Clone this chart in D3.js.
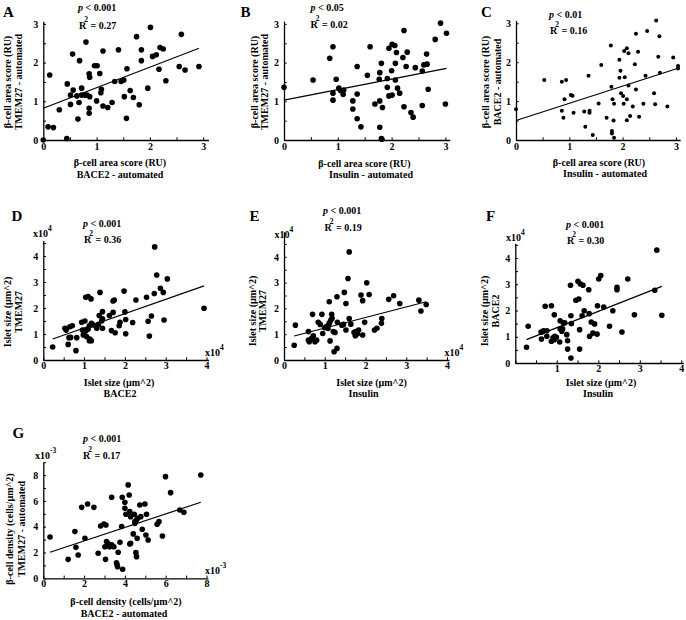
<!DOCTYPE html>
<html><head><meta charset="utf-8">
<script src="https://cdn.jsdelivr.net/npm/d3@7"></script>
<style>
body{margin:0;background:#fff;overflow:hidden}
text{font-family:"Liberation Serif","Times New Roman",serif;font-weight:bold;fill:#000}
</style>
</head><body><svg id="c" width="686" height="620"></svg>
<script>
// ---------- DATA ----------
const ptsA=[[0,0],[0.12,1.68],[0.09,0.34],[0.19,0.32],[0.30,0.78],[0.45,1.45],[0.44,0.04],[0.51,0.92],[0.51,1.16],[0.55,2.22],[0.56,1.29],[0.63,1.14],[0.65,0.54],[0.67,0.97],[0.68,2.05],[0.72,1.16],[0.72,1.34],[0.78,1.16],[0.80,2.53],[0.82,1.16],[0.86,1.71],[0.87,1.62],[0.87,1.12],[0.86,0.82],[0.86,0.69],[0.96,1.92],[1.01,1.92],[1.00,1.01],[1.06,1.72],[1.08,1.22],[1.09,1.31],[1.12,2.30],[1.12,0.88],[1.21,0.84],[1.29,0.97],[1.34,1.51],[1.41,2.33],[1.46,1.51],[1.51,1.55],[1.52,1.12],[1.56,0.56],[1.57,1.84],[1.63,1.28],[1.69,1.10],[1.75,2.67],[1.80,0.91],[1.84,2.33],[1.84,2.05],[1.96,1.34],[2.01,2.91],[2.05,2.16],[2.12,2.20],[2.17,1.83],[2.19,2.39],[2.25,2.35],[2.30,1.53],[2.55,1.90],[2.59,2.73],[2.66,1.81],[2.92,1.90]];
const ptsB=[[0,1.36],[0.54,1.55],[0.85,2.11],[0.91,2.41],[0.91,1.21],[0.91,1.03],[0.97,1.57],[1.02,1.34],[1.05,1.28],[1.10,1.18],[1.11,1.29],[1.28,1.01],[1.28,0.80],[1.36,1.90],[1.36,1.19],[1.36,0.55],[1.43,0.34],[1.55,1.67],[1.60,2.41],[1.69,0.93],[1.77,1.57],[1.78,1.74],[1.78,1.01],[1.78,0.33],[1.81,0.04],[1.82,0.02],[1.81,1.98],[1.83,0.84],[1.92,1.36],[1.92,1.59],[1.95,1.14],[1.95,2.37],[2.00,1.79],[2.01,1.16],[2.01,2.47],[2.06,2.44],[2.07,1.98],[2.07,1.55],[2.09,2.26],[2.11,1.34],[2.15,1.21],[2.21,2.13],[2.23,2.83],[2.23,0.86],[2.27,1.90],[2.29,2.27],[2.36,0.71],[2.40,0.59],[2.44,1.87],[2.57,1.78],[2.57,0.89],[2.60,1.94],[2.66,1.96],[2.65,2.22],[2.68,1.31],[2.81,2.60],[2.91,3.02],[3.02,2.76],[3.00,0.93]];
const ptsC=[[0,0.79],[0.53,1.54],[0.86,1.50],[0.94,1.54],[0.86,0.75],[0.89,0.57],[0.91,1.05],[1.03,1.16],[1.06,1.14],[1.08,0.70],[1.28,0.73],[1.30,0.34],[1.36,1.65],[1.38,0.75],[1.38,0.70],[1.44,0.13],[1.55,0.94],[1.60,1.93],[1.70,0.57],[1.78,2.43],[1.79,1.37],[1.81,1.05],[1.80,0.23],[1.80,0.17],[1.83,0.50],[1.84,0.06],[1.84,0.93],[1.94,2.06],[1.94,1.60],[1.96,1.78],[1.97,1.20],[2.01,1.13],[2.02,0.93],[2.03,2.29],[2.04,1.61],[2.08,2.36],[2.08,1.05],[2.08,0.51],[2.11,2.23],[2.11,1.40],[2.14,0.62],[2.19,0.86],[2.23,1.95],[2.25,1.30],[2.25,2.73],[2.29,2.27],[2.31,0.60],[2.39,0.93],[2.43,1.65],[2.46,2.80],[2.59,1.20],[2.61,0.92],[2.63,3.07],[2.67,2.14],[2.69,2.67],[2.70,1.73],[2.84,0.86],[2.95,2.12],[3.04,1.90],[3.04,1.84]];
const ptsD=[[0.23,0.50],[0.53,1.22],[0.56,1.15],[0.61,0.60],[0.63,0.86],[0.67,0.87],[0.65,1.28],[0.71,1.32],[0.80,0.36],[0.82,0.86],[0.94,1.45],[1.02,1.50],[0.96,1.15],[1.00,1.03],[1.02,1.09],[1.06,1.15],[1.10,1.19],[0.98,0.96],[1.04,2.41],[1.10,2.44],[1.17,2.35],[1.06,0.90],[1.13,0.74],[1.18,0.74],[1.14,0.81],[1.13,1.32],[1.18,1.41],[1.22,1.35],[1.31,1.22],[1.35,1.37],[1.37,1.71],[1.39,2.60],[1.43,1.50],[1.45,1.58],[1.45,1.86],[1.45,1.22],[1.62,1.71],[1.67,1.13],[1.76,1.05],[1.71,2.27],[1.74,2.31],[1.71,1.83],[1.86,1.32],[1.88,1.45],[1.98,2.65],[2.00,1.85],[2.02,1.56],[2.02,1.01],[2.19,1.44],[2.27,2.31],[2.53,2.41],[2.57,1.49],[2.60,0.92],[2.65,1.69],[2.72,2.56],[2.73,4.35],[2.78,3.27],[2.87,2.76],[2.94,2.60],[2.96,1.54],[3.04,3.12],[3.94,1.99]];
const ptsE=[[0.25,0.57],[0.28,1.35],[0.60,1.10],[0.60,0.77],[0.62,0.71],[0.68,0.84],[0.72,0.94],[0.70,1.77],[0.76,0.71],[0.80,0.77],[0.84,1.46],[0.89,1.38],[0.93,1.77],[0.95,1.03],[1.00,1.25],[1.04,1.30],[1.08,1.22],[1.10,1.38],[1.12,1.45],[1.15,1.55],[1.18,1.62],[1.11,2.26],[1.13,0.74],[1.17,1.77],[1.21,1.10],[1.25,1.07],[1.23,0.32],[1.30,0.45],[1.30,2.45],[1.31,1.46],[1.42,1.35],[1.46,1.38],[1.48,2.62],[1.52,2.19],[1.52,1.16],[1.57,3.16],[1.60,4.19],[1.60,1.61],[1.64,1.39],[1.72,1.07],[1.75,0.94],[1.77,1.10],[1.80,1.01],[1.83,1.16],[1.89,2.52],[1.93,2.30],[1.93,0.97],[1.98,1.46],[2.03,2.99],[2.09,2.54],[2.22,1.16],[2.28,1.23],[2.39,1.42],[2.40,1.61],[2.57,2.35],[2.69,2.49],[2.84,2.19],[3.31,2.32],[3.36,1.90],[3.49,2.15]];
const ptsF=[[0.27,0.60],[0.31,1.40],[0.62,1.18],[0.64,1.18],[0.68,1.23],[0.76,1.23],[0.63,0.91],[0.72,2.16],[0.76,1.02],[0.87,2.18],[0.87,0.83],[0.91,0.96],[0.95,1.02],[0.99,0.98],[0.94,0.89],[1.07,0.80],[0.94,1.84],[1.08,1.61],[1.08,1.30],[1.12,1.21],[1.14,1.30],[1.16,1.52],[1.19,1.53],[1.24,1.08],[1.26,0.85],[1.26,0.53],[1.33,2.96],[1.34,0.19],[1.34,1.80],[1.35,1.50],[1.46,2.39],[1.51,3.11],[1.53,2.44],[1.55,1.27],[1.55,0.53],[1.57,3.01],[1.63,2.96],[1.61,1.80],[1.66,1.99],[1.77,2.79],[1.78,1.88],[1.79,1.02],[1.83,1.56],[1.87,1.14],[1.91,1.49],[1.97,1.10],[1.98,2.18],[2.01,3.20],[2.06,3.33],[2.13,2.13],[2.27,1.40],[2.35,1.99],[2.45,2.88],[2.45,2.79],[2.57,1.18],[2.71,3.20],[2.87,1.84],[3.36,2.77],[3.41,4.30],[3.53,1.82]];
const ptsG=[[0.33,3.20],[1.22,1.47],[1.55,3.62],[1.60,2.40],[1.71,1.81],[1.88,5.50],[2.17,5.76],[2.04,3.10],[2.48,5.50],[2.69,1.94],[2.81,4.06],[2.97,4.21],[3.07,4.13],[3.02,2.45],[3.10,2.85],[3.18,2.70],[3.25,2.45],[3.35,2.60],[3.05,1.47],[3.35,6.28],[3.46,2.45],[3.67,2.02],[3.59,1.21],[3.62,1.03],[3.64,0.90],[3.76,2.79],[3.84,4.01],[3.87,6.28],[3.89,0.70],[4.00,5.43],[4.00,5.89],[4.05,4.96],[4.16,7.24],[4.21,6.46],[4.24,5.17],[4.24,2.66],[4.28,2.71],[4.28,4.78],[4.41,3.44],[4.46,4.96],[4.49,4.26],[4.49,4.39],[4.57,4.52],[4.62,4.65],[4.54,1.99],[4.57,1.68],[4.60,3.10],[4.73,5.68],[4.78,4.78],[4.85,3.80],[4.98,5.76],[5.03,3.36],[5.06,4.96],[5.14,2.97],[5.58,4.19],[5.67,4.39],[5.84,3.28],[5.99,7.88],[6.24,6.64],[6.69,5.30],[6.89,5.12],[7.72,8.01]];

// regression lines: [intercept, slope]
const fitA=[0.82,0.531], fitB=[1.03,0.272], fitC=[0.50,0.442], fitD=[0.683,0.55],
      fitE=[0.8275,0.41], fitF=[0.722,0.623], fitG=[1.847,0.524];

const letters=["A","B","C","D","E","F","G"];
const pLabels=["< 0.001","< 0.05","< 0.01","< 0.001","< 0.001","< 0.001","< 0.001"];
const r2Labels=["0.27","0.02","0.16","0.36","0.19","0.30","0.17"];
const xLab1=["β-cell area score (RU)","β-cell area score (RU)","β-cell area score (RU)","Islet size (µm^2)","Islet size (µm^2)","Islet size (µm^2)","β-cell density (cells/µm^2)"];
const xLab2=["BACE2 - automated","Insulin - automated","Insulin - automated","BACE2","Insulin","Insulin","BACE2 - automated"];
const yLab1=["β-cell area score (RU)","β-cell area score (RU)","β-cell area score (RU)","Islet size (µm^2)","Islet size (µm^2)","Islet size (µm^2)","β-cell density (cells/µm^2)"];
const yLab2=["TMEM27 - automated","TMEM27 - automated","BACE2 - automated","TMEM27","TMEM27","BACE2","TMEM27 - automated"];
const expLabels=[null,null,null,"4","4","4","-3"];
const ticksAF=[0,1,2,3], ticksDF=[0,1,2,3,4], ticksG=[0,2,4,6,8];

// ---------- LAYOUT ----------
const L=[
 {ox:43.3,oy:140,ux:53.3,uy:38.7,xm:3.1,ym:3.07,minor:0.5,xt:ticksAF,yt:ticksAF,r:2.8,
  let:[3,17],p:[78,10.5],r2:[79,28.5],xl1:[120,166],xl2:[120,177.5],yl:[11,22,82],xpad:3},
 {ox:284,oy:140,ux:53.8,uy:38.7,xm:3.08,ym:3.07,minor:0.5,xt:ticksAF,yt:ticksAF,r:2.8,
  let:[240.5,17],p:[310.5,10.5],r2:[310.5,27.5],xl1:[364.5,166.5],xl2:[371,178],yl:[257.5,267.5,82],xpad:3},
 {ox:516,oy:140,ux:53.3,uy:38.9,xm:3.08,ym:3.07,minor:0.5,xt:ticksAF,yt:ticksAF,r:2.0,
  let:[481,16.5],p:[549,17.5],r2:[550,33.5],xl1:[599,165.5],xl2:[605,177],yl:[489,501,82],xpad:3},
 {ox:43.3,oy:360,ux:40.8,uy:26,xm:4.05,ym:4.6,minor:0.5,xt:ticksDF,yt:ticksDF,r:2.8,
  let:[11.5,221],p:[83,227],r2:[84,243],xl1:[119,385.5],xl2:[120,397],yl:[11,22,312],xpad:2,
  ey:[33,236.5],ex:[205,356]},
 {ox:284,oy:360,ux:40.75,uy:25.8,xm:4.05,ym:4.97,minor:0.5,xt:ticksDF,yt:ticksDF,r:2.8,
  let:[249.5,221],p:[323,214],r2:[324.5,231],xl1:[371.5,386],xl2:[363.5,397],yl:[255.5,265.5,311],xpad:2,
  ey:[274.5,237.5],ex:[444.5,356]},
 {ox:515.3,oy:363,ux:41.5,uy:26.25,xm:4.05,ym:4.56,minor:0.5,xt:[1,2,3,4],yt:ticksDF,r:2.8,
  let:[486,220.5],p:[566,227.5],r2:[567,243.5],xl1:[601,386],xl2:[598,397],yl:[488,499,311],xpad:2,
  ey:[506,240.5],ex:null},
 {ox:43.3,oy:578.3,ux:20.4,uy:12.9,xm:8.07,ym:9.0,minor:1,xt:ticksG,yt:ticksG,r:2.8,
  let:[12.5,437.5],p:[83,442],r2:[83,458.5],xl1:[126,605],xl2:[124,617],yl:[13,24.5,529],xpad:2,
  ey:[35,458.5],ex:[205,573.5]}
];
const pts=[ptsA,ptsB,ptsC,ptsD,ptsE,ptsF,ptsG];
const fits=[fitA,fitB,fitC,fitD,fitE,fitF,fitG];

const svg=d3.select("#c");
const FS=10;

L.forEach((c,i)=>{
  const g=svg.append("g");
  const x=d3.scaleLinear().domain([0,c.xm]).range([c.ox,c.ox+c.xm*c.ux]);
  const y=d3.scaleLinear().domain([0,c.ym]).range([c.oy,c.oy-c.ym*c.uy]);
  const minorX=d3.range(0,c.xm+1e-6,c.minor), minorY=d3.range(0,c.ym+1e-6,c.minor);
  const fmtX=d=>c.xt.some(t=>Math.abs(t-d)<1e-6)?d3.format("d")(d):"";
  const fmtY=d=>c.yt.some(t=>Math.abs(t-d)<1e-6)?d3.format("d")(d):"";
  const ax=g.append("g").attr("transform",`translate(0,${c.oy})`)
    .call(d3.axisBottom(x).tickValues(minorX).tickFormat(fmtX).tickSizeInner(-2.7).tickSizeOuter(0).tickPadding(c.xpad));
  const ay=g.append("g").attr("transform",`translate(${c.ox},0)`)
    .call(d3.axisLeft(y).tickValues(minorY).tickFormat(fmtY).tickSizeInner(-2.7).tickSizeOuter(0).tickPadding(5));
  [ax,ay].forEach(a=>{
    a.selectAll("path").attr("stroke","#000").attr("stroke-width",1.3);
    a.selectAll("line").attr("stroke","#000").attr("stroke-width",1);
    a.selectAll("text").style("font-family",'"Liberation Serif",serif').style("font-weight","bold").attr("font-size",FS).attr("fill","#000");
  });

  // points
  g.append("g").selectAll("circle").data(pts[i]).join("circle")
    .attr("cx",d=>x(d[0])).attr("cy",d=>y(d[1])).attr("r",c.r).attr("fill","#000");

  // regression line
  const f=fits[i];
  const xe=d3.extent(pts[i],d=>d[0]);
  g.append("line").attr("x1",x(xe[0])).attr("y1",y(f[0]+f[1]*xe[0]))
    .attr("x2",x(xe[1])).attr("y2",y(f[0]+f[1]*xe[1]))
    .attr("stroke","#000").attr("stroke-width",1.2);

  // panel letter
  g.append("text").attr("x",c.let[0]).attr("y",c.let[1]).attr("font-size",15).text(letters[i]);
  // p value
  const pt=g.append("text").attr("x",c.p[0]).attr("y",c.p[1]).attr("font-size",FS);
  pt.append("tspan").attr("font-style","italic").text("p");
  pt.append("tspan").text(" "+pLabels[i]);
  // R^2
  const rt=g.append("text").attr("x",c.r2[0]).attr("y",c.r2[1]).attr("font-size",FS);
  rt.append("tspan").text("R");
  rt.append("tspan").attr("dx",-2).attr("dy",-7).attr("font-size",7.5).text("2");
  rt.append("tspan").attr("dx",0).attr("dy",7).text(" = "+r2Labels[i]);

  // axis titles
  g.append("text").attr("x",c.xl1[0]).attr("y",c.xl1[1]).attr("text-anchor","middle").attr("font-size",FS).text(xLab1[i]);
  g.append("text").attr("x",c.xl2[0]).attr("y",c.xl2[1]).attr("text-anchor","middle").attr("font-size",FS).text(xLab2[i]);
  g.append("text").attr("transform",`translate(${c.yl[0]},${c.yl[2]}) rotate(-90)`).attr("text-anchor","middle").attr("font-size",FS).text(yLab1[i]);
  g.append("text").attr("transform",`translate(${c.yl[1]},${c.yl[2]}) rotate(-90)`).attr("text-anchor","middle").attr("font-size",FS).text(yLab2[i]);

  // exponent labels
  if(expLabels[i]){
    [c.ey,c.ex].filter(Boolean).forEach(pos=>{
      const t=g.append("text").attr("x",pos[0]).attr("y",pos[1]).attr("font-size",FS);
      t.append("tspan").text("x10");
      t.append("tspan").attr("dy",-6).attr("font-size",7.5).text(expLabels[i]);
    });
  }
});
</script></body></html>
